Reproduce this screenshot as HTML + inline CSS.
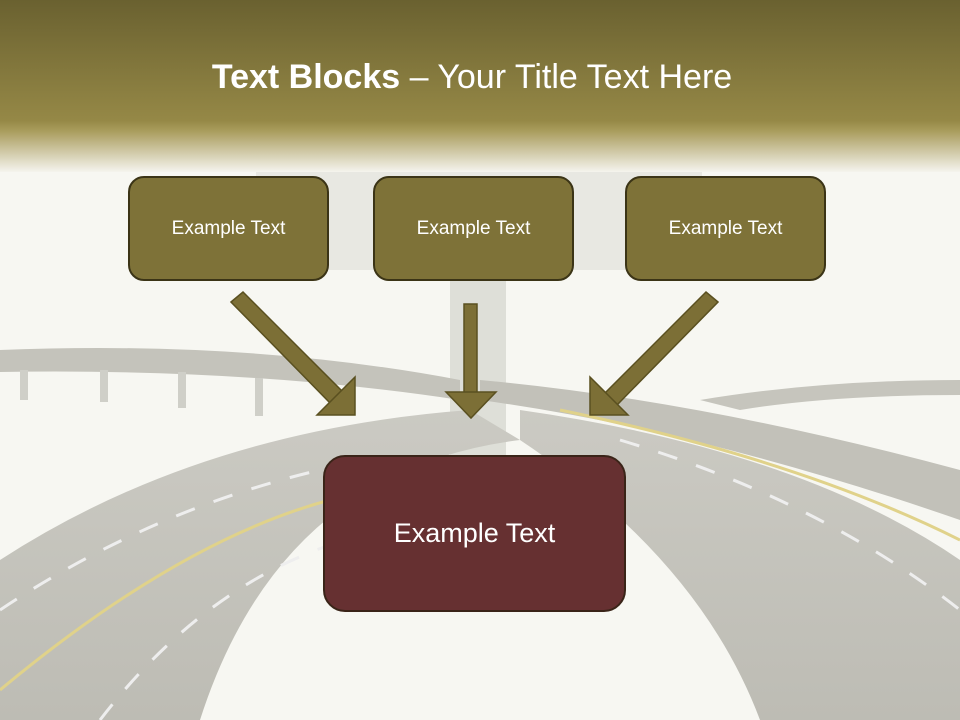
<!DOCTYPE html>
<html><head><meta charset="utf-8"><style>
body{margin:0;width:960px;height:720px;overflow:hidden;font-family:"Liberation Sans",sans-serif;}
.bg{position:absolute;left:0;top:0;}
.box{position:absolute;box-sizing:border-box;border:2.5px solid #3b3416;border-radius:16px;background:#7e7238;color:#fff;display:flex;align-items:center;justify-content:center;font-size:19px;}
</style></head><body>
<svg class="bg" width="960" height="720">
<defs>
<linearGradient id="top" x1="0" y1="0" x2="0" y2="1">
<stop offset="0" stop-color="#6a6130"/><stop offset="0.7" stop-color="#958846"/><stop offset="0.76" stop-color="#a99c5c"/><stop offset="1" stop-color="#f5f4ee"/>
</linearGradient>
<linearGradient id="road" x1="0" y1="0" x2="0" y2="1"><stop offset="0" stop-color="#cbcac3"/><stop offset="1" stop-color="#bdbcb4"/></linearGradient>
</defs>
<rect width="960" height="720" fill="#f7f7f2"/>
<rect x="256" y="120" width="446" height="150" fill="#e8e8e2"/>
<rect x="450" y="280" width="56" height="180" fill="#dedfd8"/>
<path d="M0 350 Q250 340 460 380 L460 400 Q250 368 0 372Z" fill="#c4c3bb"/>
<rect x="20" y="370" width="8" height="30" fill="#cfcfc8"/><rect x="100" y="370" width="8" height="32" fill="#cfcfc8"/><rect x="178" y="372" width="8" height="36" fill="#cfcfc8"/><rect x="255" y="378" width="8" height="38" fill="#cfcfc8"/>
<path d="M480 380 Q700 400 960 470 L960 520 Q700 430 480 400Z" fill="#c2c1b9"/>
<path d="M700 400 Q820 380 960 380 L960 395 Q830 395 740 410Z" fill="#c6c5bd"/>
<path d="M0 560 Q200 430 470 410 L520 440 Q280 470 200 720 L0 720Z" fill="url(#road)"/>
<path d="M520 410 Q800 450 960 560 L960 720 L760 720 Q700 560 520 440Z" fill="url(#road)"/>
<path d="M0 690 Q180 540 330 500" stroke="#e0d28a" stroke-width="3" fill="none"/>
<path d="M560 410 Q800 460 960 540" stroke="#e0d28a" stroke-width="3" fill="none"/>
<path d="M0 610 Q150 510 320 470" stroke="#eee" stroke-width="3" stroke-dasharray="20 20" fill="none"/>
<path d="M100 720 Q200 590 330 545" stroke="#eee" stroke-width="3" stroke-dasharray="20 20" fill="none"/>
<path d="M620 440 Q820 500 960 610" stroke="#eee" stroke-width="3" stroke-dasharray="20 20" fill="none"/>
<rect width="960" height="172" fill="url(#top)"/>
<g fill="#7c6f36" stroke="#5a5020" stroke-width="1.5">
<polygon points="231,302 243,292 345,394 333,406"/>
<polygon points="355,415 355,377 317,415"/>
<rect x="464" y="304" width="13" height="90"/>
<polygon points="446,392 496,392 471,418"/>
<polygon points="718,302 706,292 604,394 616,406"/>
<polygon points="590,415 590,377 628,415"/>
</g>
<text x="472" y="88" text-anchor="middle" fill="#fff" font-family="Liberation Sans, sans-serif" font-size="34"><tspan font-weight="bold">Text Blocks</tspan> – Your Title Text Here</text>
</svg>
<div class="box" style="left:128px;top:176px;width:201px;height:105px">Example Text</div>
<div class="box" style="left:373px;top:176px;width:201px;height:105px">Example Text</div>
<div class="box" style="left:625px;top:176px;width:201px;height:105px">Example Text</div>
<div class="box" style="left:323px;top:455px;width:303px;height:157px;background:#663031;border-color:#3a2418;border-radius:22px;font-size:27px">Example Text</div>
</body></html>
